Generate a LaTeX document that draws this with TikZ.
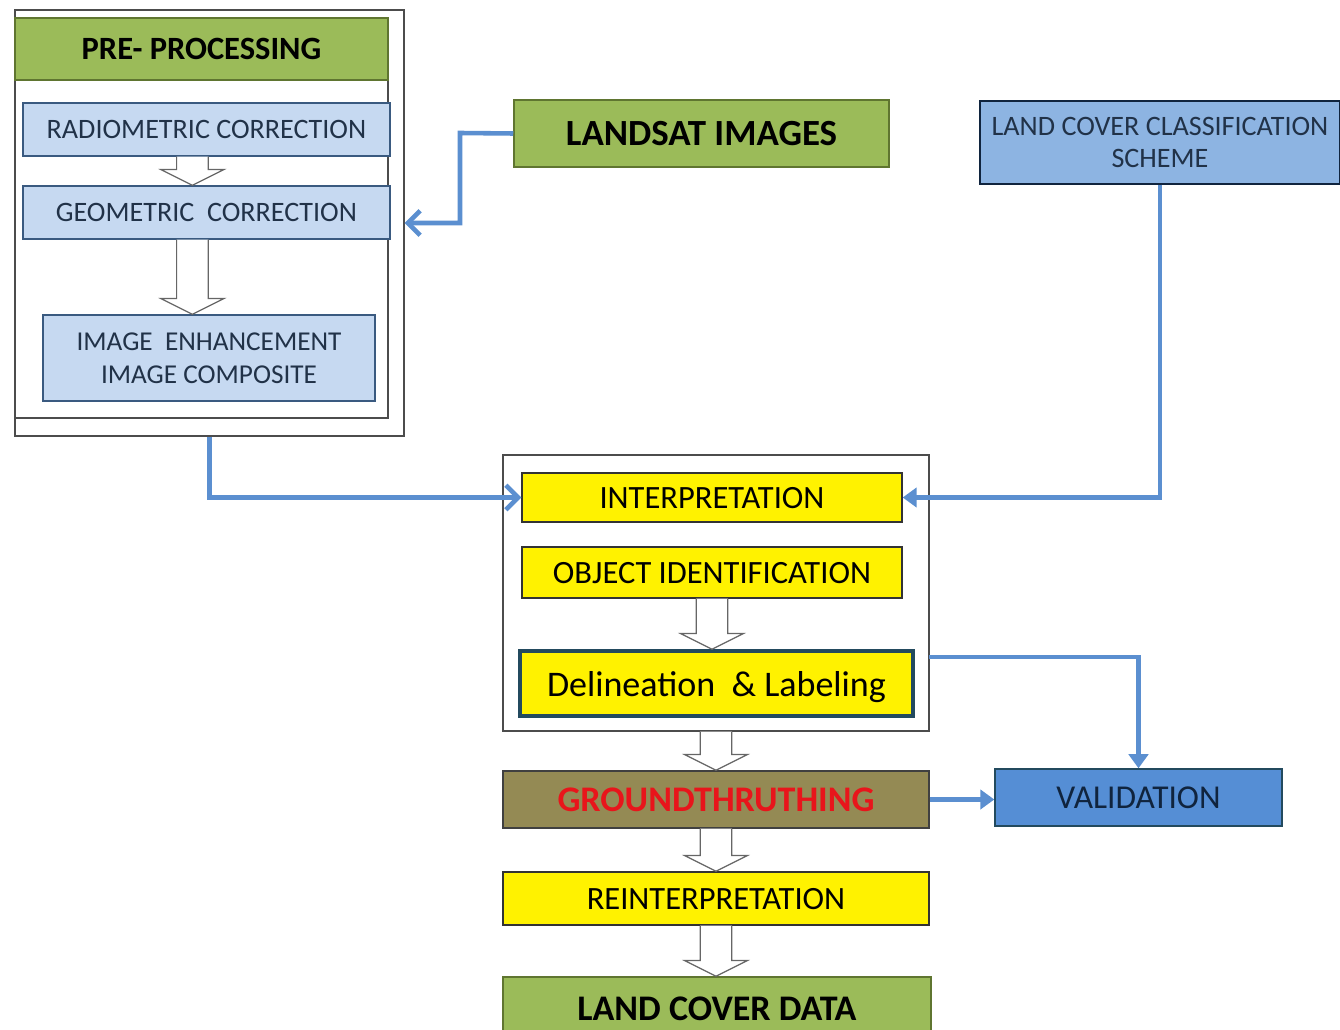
\documentclass[tikz,border=0pt]{standalone}
\usepackage{fontspec}
\setmainfont{Carlito}
\usepackage{tikz}
\usetikzlibrary{arrows.meta, positioning, calc}
\definecolor{lcgreen}{HTML}{9BBB59}
\definecolor{lcgreenb}{HTML}{5F7530}
\definecolor{lcpale}{HTML}{C6D9F1}
\definecolor{lcpaleb}{HTML}{3A5A80}
\definecolor{lcsky}{HTML}{8DB4E2}
\definecolor{lcblue}{HTML}{558ED5}
\definecolor{lcnavy}{HTML}{10243E}
\definecolor{lcline}{HTML}{5B8FD0}
\definecolor{lcolive}{HTML}{948A54}
\definecolor{lcred}{HTML}{E8151B}
\definecolor{lcteal}{HTML}{234A5E}

\newcommand{\blockarrow}[3][0]{%
  \draw[hollow] let \p1=($(#2.south)+(#1,0)$), \p2=(#3.north) in
    (\x1-9pt,\y1) -- (\x1-9pt,\y2+9pt) -- (\x1-18pt,\y2+9pt) -- (\x1,\y2)
    -- (\x1+18pt,\y2+9pt) -- (\x1+9pt,\y2+9pt) -- (\x1+9pt,\y1);}

\begin{document}
\begin{tikzpicture}[
  x=0.02cm, y=-0.02cm,
  base/.style={rectangle, inner sep=0pt, align=center, text depth=0pt},
  greenbox/.style={base, draw=lcgreenb, fill=lcgreen, line width=0.9pt,
              font=\fontsize{18.5}{20}\selectfont\bfseries},
  palebox/.style={base, draw=lcpaleb, fill=lcpale, line width=0.8pt,
              text=lcnavy!85!gray, font=\fontsize{16}{18.5}\selectfont},
  yellowbox/.style={base, draw=black!80, fill=yellow, line width=0.8pt,
              font=\fontsize{18.5}{20}\selectfont},
  frame/.style={base, draw=black!70, line width=0.8pt},
  blueline/.style={draw=lcline, line width=2.6pt},
  hollow/.style={draw=black!60, line width=0.7pt, fill=white},
]
  \useasboundingbox (0,0) rectangle (1340,1030);

  % pre-processing block
  \node[frame, minimum width=7.78cm, minimum height=8.52cm] (preframe) at (209.5,223) {};
  \node[frame, minimum width=7.46cm, minimum height=8.0cm] (preinner) at (201.5,218) {};
  \node[greenbox, minimum width=7.46cm, minimum height=1.24cm] (prehead) at (201.5,49) {PRE- PROCESSING};
  \node[palebox, minimum width=7.34cm, minimum height=1.06cm] (radio) at (206.5,129.5) {RADIOMETRIC CORRECTION};
  \node[palebox, minimum width=7.34cm, minimum height=1.06cm] (geo) at (206.5,212.5) {GEOMETRIC~ CORRECTION};
  \node[palebox, minimum width=6.64cm, minimum height=1.72cm,
        font=\fontsize{15.5}{18.5}\selectfont] (enh) at (209,358) {IMAGE~ ENHANCEMENT\\IMAGE COMPOSITE};

  % inputs
  \node[greenbox, minimum width=7.5cm, minimum height=1.34cm,
        font=\fontsize{21}{23}\selectfont\bfseries] (landsat) at (701.5,133.5) {LANDSAT IMAGES};
  \node[palebox, fill=lcsky, draw=lcnavy, minimum width=7.2cm, minimum height=1.66cm] (scheme) at (1160,142.5)
        {LAND COVER CLASSIFICATION\\SCHEME};

  % interpretation block
  \node[frame, minimum width=8.52cm, minimum height=5.52cm] (intframe) at (716,593) {};
  \node[yellowbox, minimum width=7.6cm, minimum height=0.98cm] (interp) at (712,497.5) {INTERPRETATION};
  \node[yellowbox, minimum width=7.6cm, minimum height=1.02cm] (objid) at (712,572.5) {OBJECT IDENTIFICATION};
  \node[yellowbox, draw=lcteal, line width=2pt, minimum width=7.86cm, minimum height=1.3cm,
        font=\fontsize{20.5}{22}\selectfont] (delin) at (716.5,683.5) {Delineation~ \& Labeling};

  % lower chain
  \node[base, draw=black!75, fill=lcolive, line width=0.8pt, minimum width=8.52cm, minimum height=1.14cm,
        text=lcred, font=\fontsize{20.5}{22}\selectfont\bfseries] (ground) at (716,799.5) {GROUNDTHRUTHING};
  \node[base, draw=lcteal, fill=lcblue, line width=0.8pt, minimum width=5.74cm, minimum height=1.14cm,
        text=lcnavy, font=\fontsize{19}{21}\selectfont] (valid) at (1138.5,797.5) {VALIDATION};
  \node[yellowbox, minimum width=8.52cm, minimum height=1.06cm] (reint) at (716,898.5) {REINTERPRETATION};
  \node[greenbox, minimum width=8.56cm, minimum height=1.26cm,
        font=\fontsize{20.5}{22}\selectfont\bfseries] (lcdata) at (717,1008.5) {LAND COVER DATA};

  % hollow arrows
  \blockarrow[-8pt]{radio}{geo}
  \blockarrow[-8pt]{geo}{enh}
  \blockarrow{objid}{delin}
  \blockarrow{intframe}{ground}
  \blockarrow{ground}{reint}
  \blockarrow{reint}{lcdata}

  % blue connectors
  \coordinate (lsbend) at (460,133);
  \coordinate (dlout) at (929,657);
  \draw[blueline, -{Straight Barb[length=7pt, width=14pt]}] (landsat.west) -- (lsbend) |- (preframe.east);
  \draw[blueline, -{Straight Barb[length=7pt, width=14pt]}] (preframe.south) |- (interp.west);
  \draw[blueline, -{Triangle[length=8pt, width=11pt]}] (scheme.south) |- (interp.east);
  \draw[blueline, -{Triangle[length=8pt, width=11pt]}] (dlout) -| (valid.north);
  \draw[blueline, -{Triangle[length=8pt, width=11pt]}] (ground.east) -- (ground.east -| valid.west);
\end{tikzpicture}
\end{document}
